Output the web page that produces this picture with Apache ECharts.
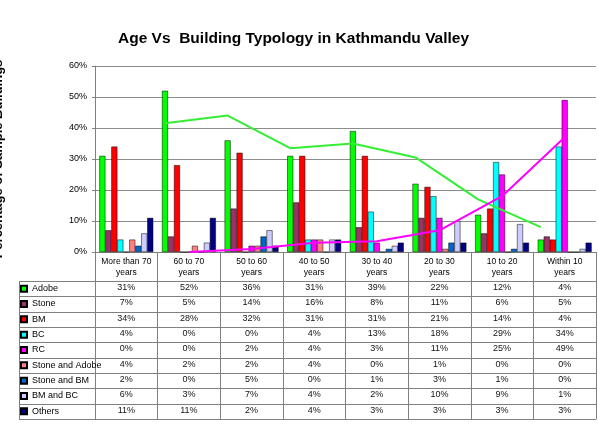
<!DOCTYPE html>
<html><head><meta charset="utf-8">
<script src="https://cdn.jsdelivr.net/npm/echarts@6/dist/echarts.min.js"></script>
<style>html,body{margin:0;padding:0;background:#fff}#c{width:598px;height:427px}</style>
</head><body><div id="c"></div>
<script>
// ---- data ----
const categories = ['More than 70\nyears','60 to 70\nyears','50 to 60\nyears','40 to 50\nyears','30 to 40\nyears','20 to 30\nyears','10 to 20\nyears','Within 10\nyears'];
const seriesNames = ['Adobe','Stone','BM','BC','RC','Stone and Adobe','Stone and BM','BM and BC','Others'];
const adobe      = [31,52,36,31,39,22,12,4];
const stone      = [7,5,14,16,8,11,6,5];
const bm         = [34,28,32,31,31,21,14,4];
const bc         = [4,0,0,4,13,18,29,34];
const rc         = [0,0,2,4,3,11,25,49];
const stoneAdobe = [4,2,2,4,0,1,0,0];
const stoneBm    = [2,0,5,0,1,3,1,0];
const bmBc       = [6,3,7,4,2,10,9,1];
const others     = [11,11,2,4,3,3,3,3];
const yTicks     = [0,10,20,30,40,50,60];
// 2-period moving-average trend lines
const adobeTrend = [null,41.5,44,33.5,35,30.5,17,8];
const rcTrend    = [null,0,1,3,3.5,7,18,37];

// ---- styling / layout ----
const values = [adobe,stone,bm,bc,rc,stoneAdobe,stoneBm,bmBc,others];
const colors = ['#00ff00','#993366','#ff0000','#00ffff','#ff00ff','#ff8080','#0066cc','#ccccff','#000080'];
const FONT = 'Liberation Sans, Arial, sans-serif';
const W = 598, H = 427;
const GRID = {left:95, right:2, top:66, bottom:175, containLabel:false, outerBoundsMode:'none'};
const HEADER_H = 29, ROW_H = 15.33, TABLE_LEFT = 19;
const CAT_GAP = 0.14;
const LINE_C = '#808080';
const baseY = H - GRID.bottom;
const tableH = HEADER_H + seriesNames.length * ROW_H;

const chart = echarts.init(document.getElementById('c'), null, {renderer:'canvas'});

const xAxes = [{
  type:'category', data:categories, position:'bottom', gridIndex:0,
  axisLine:{lineStyle:{color:LINE_C,width:1}},
  axisTick:{show:true, interval:0, length:Math.round(tableH), lineStyle:{color:LINE_C}},
  axisLabel:{interval:0, fontSize:8.5, lineHeight:11, margin:4, color:'#000', fontFamily:FONT}
}];
values.forEach((arr,k)=>{
  xAxes.push({
    type:'category', data:arr.map(v=>v+'%'), position:'bottom', gridIndex:0,
    offset:Math.round(HEADER_H + k*ROW_H),
    axisLine:{show:true, lineStyle:{color:LINE_C,width:1}},
    axisTick:{show:false},
    axisLabel:{interval:0, fontSize:9, margin:2.5, color:'#111', fontFamily:FONT}
  });
});
// bottom border of the table
xAxes.push({type:'category', data:categories, position:'bottom', offset:Math.round(tableH),
  axisLine:{show:true, lineStyle:{color:LINE_C}}, axisTick:{show:false}, axisLabel:{show:false}});
// hidden value axis for trend lines
const TREND_AXIS = xAxes.length;
xAxes.push({type:'value', min:0, max:categories.length, show:false, position:'top'});

const barFrac = (1 - CAT_GAP) / seriesNames.length;
function trendData(arr, s){
  const out = [];
  arr.forEach((v,i)=>{ if (v!=null) out.push([i + 0.5 + (s - (seriesNames.length-1)/2) * barFrac, v]); });
  return out;
}

const series = seriesNames.map((n,s)=>({
  name:n, type:'bar', xAxisIndex:0, yAxisIndex:0, data:values[s],
  barGap:'0%', barCategoryGap:(CAT_GAP*100)+'%',
  itemStyle:{color:colors[s], borderColor:'#000', borderWidth:0.5}
}));
series.push({name:'2 per. Mov. Avg. (Adobe)', type:'line', xAxisIndex:TREND_AXIS, data:trendData(adobeTrend,0),
  symbol:'none', z:5, lineStyle:{color:'#33ee33', width:2}});
series.push({name:'2 per. Mov. Avg. (RC)', type:'line', xAxisIndex:TREND_AXIS, data:trendData(rcTrend,4),
  symbol:'none', z:5, lineStyle:{color:'#ff00ff', width:2}});

// left column borders of the data table
const graphics = [];
for (let k=0;k<=seriesNames.length;k++){
  const y = baseY + Math.round(HEADER_H + k*ROW_H) + 0.5;
  graphics.push({type:'line', shape:{x1:TABLE_LEFT, y1:y, x2:GRID.left, y2:y}, style:{stroke:LINE_C, lineWidth:1}});
}
graphics.push({type:'line', shape:{x1:TABLE_LEFT+0.5, y1:baseY+HEADER_H, x2:TABLE_LEFT+0.5, y2:baseY+Math.round(tableH)+0.5}, style:{stroke:LINE_C, lineWidth:1}});

chart.setOption({
  animation:false,
  backgroundColor:'#fff',
  textStyle:{fontFamily:FONT},
  title:{text:'Age Vs  Building Typology in Kathmandu Valley', left:118, top:31, padding:0,
    textStyle:{fontSize:15.5, fontWeight:'bold', color:'#000', fontFamily:FONT}},
  legend:{data:seriesNames, orient:'vertical', left:TABLE_LEFT+1, top:baseY+HEADER_H, padding:0,
    itemGap:0, itemWidth:6, itemHeight:6, icon:'rect', selectedMode:false,
    textStyle:{fontSize:9, lineHeight:ROW_H, color:'#000', fontFamily:FONT}},
  grid:GRID,
  xAxis:xAxes,
  yAxis:{type:'value', min:yTicks[0], max:yTicks[yTicks.length-1], interval:10,
    name:'Percentage of Sample Buildings', nameLocation:'middle', nameRotate:90, nameGap:90,
    nameTextStyle:{fontSize:13, fontWeight:'bold', color:'#000', fontFamily:FONT},
    axisLine:{show:true, lineStyle:{color:LINE_C}},
    axisTick:{show:true, length:3, lineStyle:{color:LINE_C}},
    axisLabel:{formatter:'{value}%', fontSize:9, margin:8, color:'#000', fontFamily:FONT},
    splitLine:{lineStyle:{color:'#8c8c8c', width:1}}},
  graphic:graphics,
  series:series
});
</script></body></html>
